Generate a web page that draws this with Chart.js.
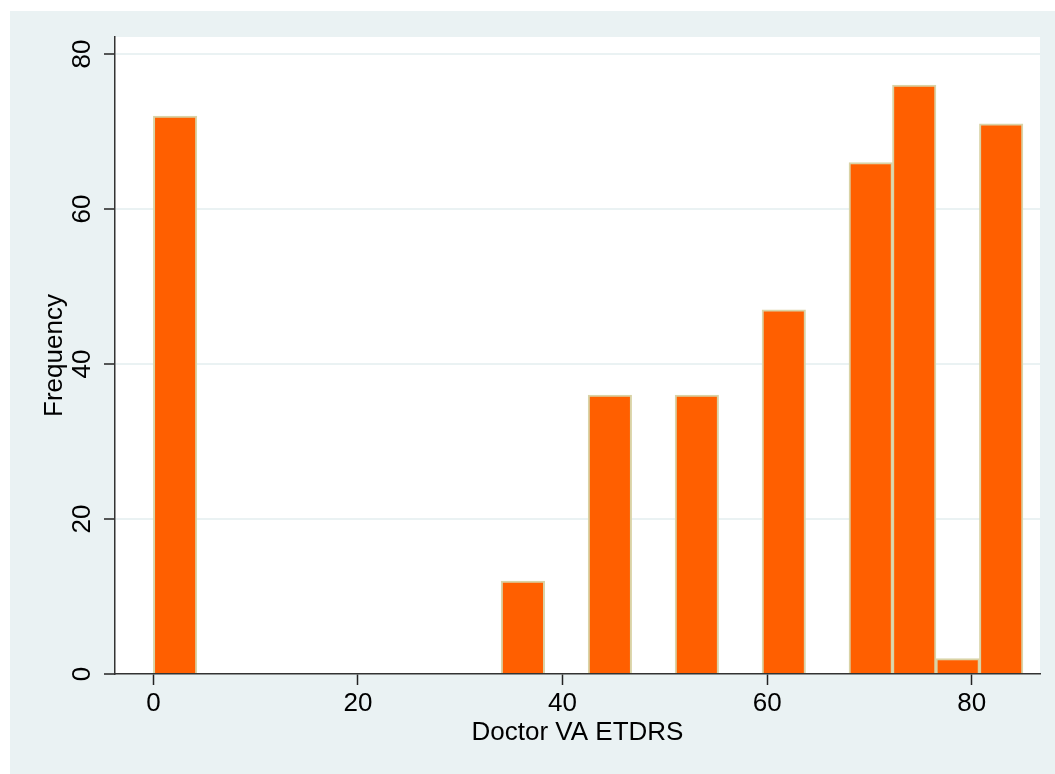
<!DOCTYPE html>
<html>
<head>
<meta charset="utf-8">
<script src="https://cdn.jsdelivr.net/npm/chart.js@4"></script>
<style>
  body { margin: 0; background: #fff; }
  canvas { display: block; }
</style>
</head>
<body>
<canvas id="hist" width="1055" height="774"></canvas>
<script>
// histogram bins (lower edge of each bin), all the same width
var binWidth = 4.25;
var binStarts = [0, 4.25, 8.5, 12.75, 17, 21.25, 25.5, 29.75, 34, 38.25,
                 42.5, 46.75, 51, 55.25, 59.5, 63.75, 68, 72.25, 76.5, 80.75];
// frequency in each bin
var counts = [72, 0, 0, 0, 0, 0, 0, 0, 12, 0,
              36, 0, 36, 0, 47, 0, 66, 76, 2, 71];

var xTicks = [0, 20, 40, 60, 80];
var yTicks = [0, 20, 40, 60, 80];

var bgColor = '#eaf2f3';
var axisFont = { family: "'Liberation Sans', Arial, sans-serif", size: 26 };

// paint the stata style backdrop: light panel, white plot region
var backdrop = {
  id: 'backdrop',
  beforeDraw: function(chart) {
    var ctx = chart.ctx, a = chart.chartArea;
    ctx.save();
    ctx.fillStyle = '#ffffff';
    ctx.fillRect(0, 0, chart.width, chart.height);
    ctx.fillStyle = bgColor;
    ctx.fillRect(10, 11, chart.width - 10, chart.height - 11);
    ctx.fillStyle = '#ffffff';
    ctx.fillRect(a.left, a.top, a.right - a.left, a.bottom - a.top);
    ctx.restore();
  }
};

var points = binStarts.map(function(s, i) {
  return { x: s + binWidth / 2, y: counts[i] };
});

new Chart(document.getElementById('hist'), {
  type: 'bar',
  data: {
    datasets: [{
      data: points,
      backgroundColor: '#ff5f00',
      borderColor: '#d9d3a6',
      borderWidth: 2,
      barPercentage: 1,
      categoryPercentage: 1
    }]
  },
  options: {
    responsive: false,
    animation: false,
    events: [],
    layout: { padding: { top: 37, right: 15, left: 0, bottom: 0 } },
    plugins: { legend: { display: false }, tooltip: { enabled: false } },
    scales: {
      x: {
        type: 'linear',
        offset: false,
        min: -3.75,
        max: 86.67,
        afterBuildTicks: function(s) { s.ticks = xTicks.map(function(v) { return { value: v }; }); },
        afterFit: function(s) { s.height = 100; },
        grid: { offset: false, drawOnChartArea: false, drawTicks: true, tickLength: 11, tickColor: '#222', tickWidth: 1.5 },
        border: { display: true, color: '#333', width: 1.5 },
        ticks: { color: '#000', font: axisFont, padding: 3, maxRotation: 0 },
        title: { display: true, text: 'Doctor VA ETDRS', color: '#000', font: axisFont, padding: { top: 0, bottom: 26 } }
      },
      y: {
        min: 0,
        max: 82.2,
        afterBuildTicks: function(s) { s.ticks = yTicks.map(function(v) { return { value: v }; }); },
        afterFit: function(s) { s.width = 115; },
        grid: {
          color: function(c) { return c.tick && c.tick.value === 0 ? 'rgba(0,0,0,0)' : bgColor; },
          lineWidth: 2,
          tickLength: 11,
          tickColor: '#222',
          tickWidth: 1.5
        },
        border: { display: true, color: '#333', width: 1.5 },
        ticks: { color: '#000', font: axisFont, padding: 7, minRotation: 90, maxRotation: 90, crossAlign: 'center' },
        title: { display: true, text: 'Frequency', color: '#000', font: axisFont, padding: { top: 39, bottom: 0 } }
      }
    }
  },
  plugins: [backdrop]
});
</script>
</body>
</html>
